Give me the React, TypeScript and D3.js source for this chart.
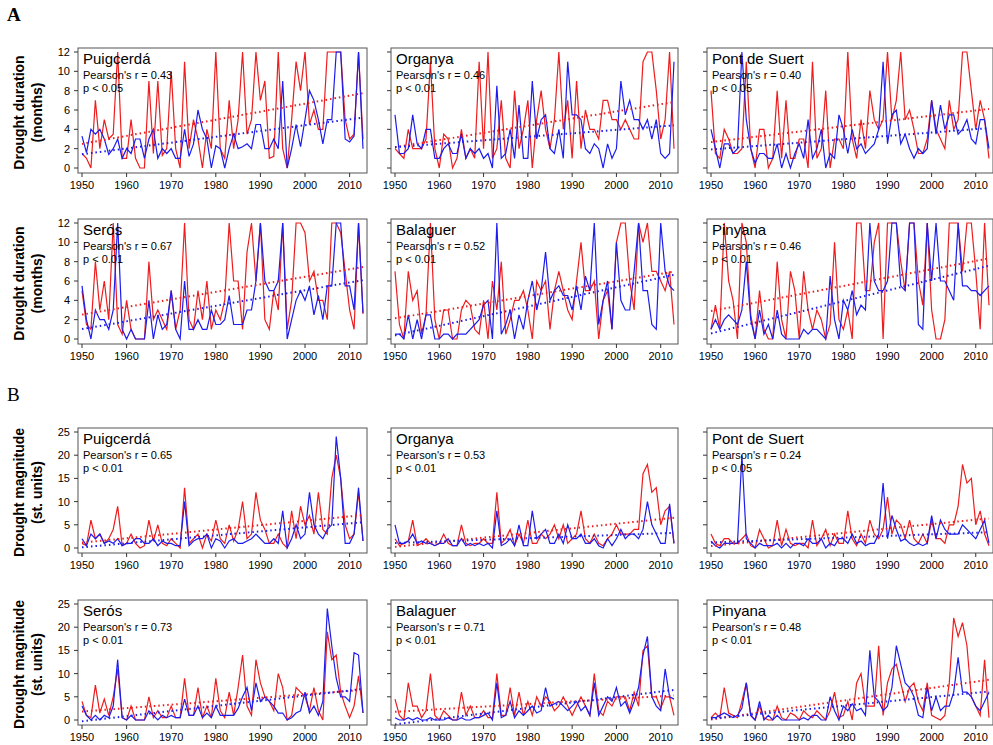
import * as d3 from "d3";

// years 1950..2013, one value per year
const stations = ["Puigcerdá", "Organya", "Pont de Suert", "Serós", "Balaguer", "Pinyana"];

const durRed: number[][] = [
  [1.5,1,0,7,2,5,3,3.5,12,1, 1,5,1,0,0,9,1.5,9,1.3,2, 10,2,0,11,2,5,3,0,4,2, 12,2,1,7,2,5,12,3.5,5,12, 7,9,1,1.2,12,2,0,5,11,8, 12,4.5,6,4,4,12,12,12,12,5, 3,3.5,12,3],
  [2,1.5,1,4,2,2,2,3,11,2, 0,3.5,3,0,1,4,1,2,1,11, 2,12,1,2,7,1,0,8,2,4, 7,0,5,8,4,2,5,12,4,7, 1,9,2,6,4,4,3,7,7,5, 5,4,5,4,3,3,11,12,12,8, 3,5,12,2],
  [8,1.5,1,4,3,1.5,1.5,2,11,2, 0,4,4,0,1,8,1,7,1,1, 3,3,0,11,1,2,8,0,3,3, 2,12,3,1,5,2,8,5,4,5, 12,5,7,12,5,6,4,1.5,1.5,3, 7,4,3,2,7,4,5,12,12,8, 4,7,5,1],
  [5,1.5,1,8,3,6,2,12,1.5,0.5, 4,1,0,0,0,8,2,3,2,1, 5,1,3,12,2,1,5,2,6,1, 3,2,4,12,6,6,1,9,12,6, 12,2,1,5,3,12,1,4,12,12, 11,6,7,4,4,2,12,12,11,7, 3,1,12,2.6],
  [7,1.5,0,7,4,5,0.5,2.5,12,2, 0,3,3,0,0,3,4,3.5,1,0.5, 4,0,6,3,8,0.5,2,4,4,5, 3,0,6,5,6,1,5,7,5,3, 2,6,10,5,5,6,0,4,5,1, 10,12,12,6,3,12,10,12,7,7, 6,5,7,1.5],
  [1,3.5,1,12,6,4,0,12,10,2.5, 0,5,1,0,0,8,2,0,7,5, 0,7,3,1,3,2,0,1.5,10,2, 1,3,0,12,12,5,5,10,12,0, 12,12,12,8,5,12,12,6,3.5,12, 3,0,0,2,12,12,12,7,12,12, 7,1,12,3.5],
];
const durBlue: number[][] = [
  [3.3,1.6,4,3.5,4,3,1.4,2,3,1, 2,1.5,3,3,1,3,4,1,2,1.5, 2,1,1,4,1.2,2.5,6,4,3,0, 2.3,2,0,2,3.5,2,2.2,2.5,2,4.5, 4.5,2,2,3,2,9,0,2,4.5,2.2, 5,8,7,5,2.5,5,5,12,12,3, 2.7,3.3,12,2],
  [5.5,1.5,1.5,2,5.5,2.5,2,4,4,1, 1,2,2.5,1.5,1.5,3.5,1,2,1.5,2, 1,1.5,0,8.5,1,1.5,4,1,6.5,1, 1,9,3,5,5.5,2,1.5,4,1,11, 5.5,5.5,5,2,1.5,2.5,2,0,2.5,1, 2,9,5.5,7,5,5,4,5,3,5, 1.5,1,1.5,11],
  [4,2,0,2.5,2.5,1.5,2,12,5,2, 0.5,1.5,1.5,1,1,2.5,0,1.5,0,1.5, 2.5,1,5,1,2,4,0,1.5,1,5.5, 4,1.5,4,2,2.5,1.5,2,2.5,4,11, 2.5,5.5,6,2.5,3.5,2,1,2,1.5,2, 7,3.5,6.5,4,5.5,5.5,3.5,4,5,3, 2.5,5,5,2],
  [5.5,2,0,3,2,2,1,3,12,1, 0,1,0,0,0,4,0,2.5,1,1.5, 5,1,0,6,1,1,2,1,1,3, 1.5,1.5,2,4.5,1.5,1.5,1.5,3,3,6, 12,6,5,5,6,12,0,2,4,5, 4,5.5,2.5,4.5,2,5.5,5.5,12,12,5.5, 5.5,3,12,2.7],
  [0.5,0.5,0,2.5,0,2,0,2.5,2.5,0, 0,0.5,0.5,0,0.5,0.5,0.5,1,1.5,2, 3.5,4,0,12,0.5,1.5,3,0,2.5,1, 4,6,3,5,9,4,5,5.5,4.5,4.5, 3,5.5,3,6.5,5,12,1.5,4,6,1, 10,4,3,3,7,12,5,5,1.5,1, 12,7,5.5,5],
  [1,2,1,2,2.5,2,1.5,3,8,2, 0,3,0.5,1.5,0,3,0.5,0,0,0, 0,1,0.5,1,1,0.5,0,6.5,2,0, 4,3,5,2.5,3.5,3,12,6,5,5, 6,12,12,5.5,5,12,12,1.5,1,12, 6,12,6,6,5,4,12,5.5,5.5,5, 5,4.5,5,5.5],
];
const magRed: number[][] = [
  [1,0.5,6,2,3,1,2,4,9,0.5, 1,3,1,0,0.5,6,1.5,5,1,0.5, 2,1,0,13,1,2,3,0,3,1.5, 6,2,1,5,1.5,4,10,2,3,12, 6,4,1,1,3,1,0,8,2,9, 5,7,3,12,4,3,15,20,15,5, 2,3,12,1.5],
  [2,0.5,1,1.5,6,0.5,1,2,1,0.5, 1,3,1,0.5,0.5,5,1,0.5,1,1, 2,1,1,12,1,2,4,0.5,3,1, 6,1,1,3,2,3,5,2,5,1, 2,3,8,2,1,3,1,0.5,2,3, 5,3,3,3,4,4,16,18,12,13, 5,8,9,1],
  [3,1,0.5,2,2,1,1,2,3,0.5, 0,4,2,0,0.5,6,0.5,4,1,0.5, 1,1,0,6,0.5,2,4,0.5,3,1, 1,8,2,0.5,3,1,6,3,2,4, 11,3,6,5,2,6,2,1,3,1, 6,2,2,1,5,5,9,18,14,15, 5,8,3,0.5],
  [4,1,0.5,7.5,1.5,4.5,1,5,11,0.5, 0,3,0,0,0,5,0.5,2,0.5,0.5, 3,0.5,0.5,9,1,1,7,0.5,3,0.5, 9,2,0.5,6,1,7,14,3,1,13, 8,5,4,2,10,7,0,1,7,6, 5,2,7,2,0,19,13,14,6,3, 0.5,3,9.5,1.5],
  [4.5,1,0,8,3,3,0.5,2,10,1, 0,2,1,0,0,6,1,3,0.5,0.5, 2,0.5,0.5,10,1,1,7,1,6,1, 4,1,5,3,5,4,2,3,5,3, 1,3,5,3,1,10,2,1,4,3, 5,5,5,2,6,3,15,16,5,5, 2.5,5,5,1],
  [0.5,1.5,0.5,7,1.5,1,0.5,4,8,1, 0,3,0.5,0,0,3,0.5,0,1.5,1, 0,2,1,0.5,2,1,0,2,6,0.5, 1,4,0,8,10,3,3,3,16,1, 8,11,12,8,4,7,8,4,2,8, 1,0.5,0,1,8,22,18,21,16,5, 3,1,13,0.5],
];
const magBlue: number[][] = [
  [2,0.5,3,2,3,1,1.5,1,2,0.5, 1,1,2,2,1,1,2,0.5,1.5,1, 1,0.5,0.5,10,0.5,1.5,2,2,3,0, 2,1.5,0,1.5,2,1,1,1.5,2,3, 2,1,1,2,1,8,0,2,5,2, 3,12,5,3,2,4,5,24,15,1, 1,3,13,1.5],
  [5,1,1,1.5,3,1,1.5,1,1,0.5, 1,1,2,0.5,0.5,2,0.5,1,0.5,1, 0.5,1,0,8,0.5,1,2,0.5,5,0.5, 0.5,8,2,3,4,1,1,3,1,5, 2,2,3,1,1,2,0.5,0,2,0.5, 2,4,2,3,3,2,4,10,5,3, 1,1,9.5,1],
  [1.5,0.5,0,1,1,1,1,20,2,1, 0,1,0.5,0.5,0.5,1,0,1,0,1, 1,0.5,2,1,1,2,0,1,0.5,2, 2,1,3,1,1.5,0.5,1,1,3,14, 2,7,4,1.5,2,1,0.5,1,0.5,1, 7,2,6,4,3,3,3,5,4,3, 2,4,6,1],
  [3,1,0,1,0,1,0.5,3,13,0.5, 0,1,0,0,0,2,1,0,1,0.5, 1,0.5,0.5,4.5,1,1,3,0.5,1.5,0.5, 3,1,1,1,1,2.5,5,7,2,8, 4,5,4,3,1.5,1.5,0,0.5,1.5,2, 6,1.5,3,1,4,24,16,9,5,5, 4,14.5,14,1.5],
  [0.5,0,0,0.5,0,0.5,0,0,0.5,0, 0,0,0.5,0,0,0.5,0,0,0.5,0.5, 1,1.5,0,8,0.5,1,4,0.5,2,1, 2,3,1.5,2,7,3,3.5,4,3,2, 3,4,2,3,1,8,1,3,5,4, 7,3,4,1.5,4,7,14,18,5,3, 2,11,5,4.5],
  [0.5,0.5,1,1.5,1,0.5,1,2.5,8,1, 0,4,0,1,0,1,0,0,0,0, 0,0.5,0,1,1,0,0,5,2,0, 3,2,3.5,2,2.5,1,15,5,4,2, 3,7,16,12,8,7,5,1,0.5,7, 2,5,2,3,3,6,13.5,6,6,5, 3,2,4,6],
];

const durR = ["0.43", "0.46", "0.40", "0.67", "0.52", "0.46"];
const durP = ["p < 0.05", "p < 0.01", "p < 0.05", "p < 0.01", "p < 0.01", "p < 0.01"];
const magR = ["0.65", "0.53", "0.24", "0.73", "0.71", "0.48"];
const magP = ["p < 0.01", "p < 0.01", "p < 0.05", "p < 0.01", "p < 0.01", "p < 0.01"];

const durTicks = [0, 2, 4, 6, 8, 10, 12];
const magTicks = [0, 5, 10, 15, 20, 25];
const yearTicks = [1950, 1960, 1970, 1980, 1990, 2000, 2010];

const cols = [[78, 367], [391, 678], [707, 993]];
const rowTops = [48, 219, 428, 600];
const boxH = 125;
const font = "'Liberation Sans', Arial, sans-serif";

function fit(v: number[]) {
  const xs = v.map((_, i) => 1950 + i);
  const mx = d3.mean(xs)!, my = d3.mean(v)!;
  const b = d3.sum(xs, (x, i) => (x - mx) * (v[i] - my)) / d3.sum(xs, x => (x - mx) ** 2);
  return (x: number) => my + b * (x - mx);
}

function Panel({ col, row, k }: { col: number, row: number, k: number }) {
  const [l, r] = cols[col];
  const top = rowTops[row];
  const bottom = top + boxH;
  const isDur = row < 2;
  const red = isDur ? durRed[k] : magRed[k];
  const blue = isDur ? durBlue[k] : magBlue[k];
  const x = d3.scaleLinear([1950, 2013], [l + 4, r - 4]);
  const y = d3.scaleLinear(isDur ? [0, 12] : [0, 25], [bottom - 5, top + 4]);
  const line = d3.line<number>().x((_, i) => x(1950 + i)).y(d => y(d));
  const ticks = isDur ? durTicks : magTicks;
  const rr = isDur ? durR[k] : magR[k];
  const pp = isDur ? durP[k] : magP[k];
  const fr = fit(red), fb = fit(blue);
  return (
    <g fontFamily={font}>
      <path d={line(red)!} fill="none" stroke="#ee1c1c" strokeWidth={1.2} />
      <path d={line(blue)!} fill="none" stroke="#1c1cee" strokeWidth={1.2} />
      <line x1={x(1950)} x2={x(2013)} y1={y(fr(1950))} y2={y(fr(2013))} stroke="#ee1c1c" strokeWidth={2} strokeDasharray="1.5,3" />
      <line x1={x(1950)} x2={x(2013)} y1={y(fb(1950))} y2={y(fb(2013))} stroke="#1c1cee" strokeWidth={2} strokeDasharray="1.5,3" />
      <rect x={l} y={top} width={r - l} height={boxH} fill="none" stroke="#555" strokeWidth={1} />
      {ticks.map(t => (
        <g key={t}>
          <line x1={l - 4} x2={l} y1={y(t)} y2={y(t)} stroke="#333" />
          {col === 0 && <text x={l - 8} y={y(t) + 4} textAnchor="end" fontSize={11}>{t}</text>}
        </g>
      ))}
      {yearTicks.map(t => (
        <g key={t}>
          <line x1={x(t)} x2={x(t)} y1={bottom} y2={bottom + 4} stroke="#333" />
          <text x={x(t)} y={bottom + 16} textAnchor="middle" fontSize={11}>{t}</text>
        </g>
      ))}
      <text x={l + 5} y={top + 16} fontSize={15}>{stations[k]}</text>
      <text x={l + 5} y={top + 31} fontSize={11}>{`Pearson's r = ${rr}`}</text>
      <text x={l + 5} y={top + 44} fontSize={11}>{pp}</text>
    </g>
  );
}

export default function App() {
  const titles = [["Drought duration", "(months)"], ["Drought magnitude", "(st. units)"]];
  return (
    <svg width={993} height={745} style={{ position: "absolute", left: 0, top: 0, background: "#fff" }}>
      <text x={7} y={21} fontFamily="'Liberation Serif', serif" fontWeight="bold" fontSize={19}>A</text>
      <text x={7} y={401} fontFamily="'Liberation Serif', serif" fontSize={19}>B</text>
      {[0, 1, 2, 3].map(row => (
        <g key={row}>
          {[0, 1, 2].map(col => <Panel key={col} col={col} row={row} k={(row % 2) * 3 + col} />)}
          <g transform={`translate(0, ${rowTops[row] + boxH / 2 + 2})`} fontFamily={font} fontWeight="bold" fontSize={14} textAnchor="middle">
            <text transform="rotate(-90)" x={0} y={24}>{titles[row < 2 ? 0 : 1][0]}</text>
            <text transform="rotate(-90)" x={0} y={42}>{titles[row < 2 ? 0 : 1][1]}</text>
          </g>
        </g>
      ))}
    </svg>
  );
}
